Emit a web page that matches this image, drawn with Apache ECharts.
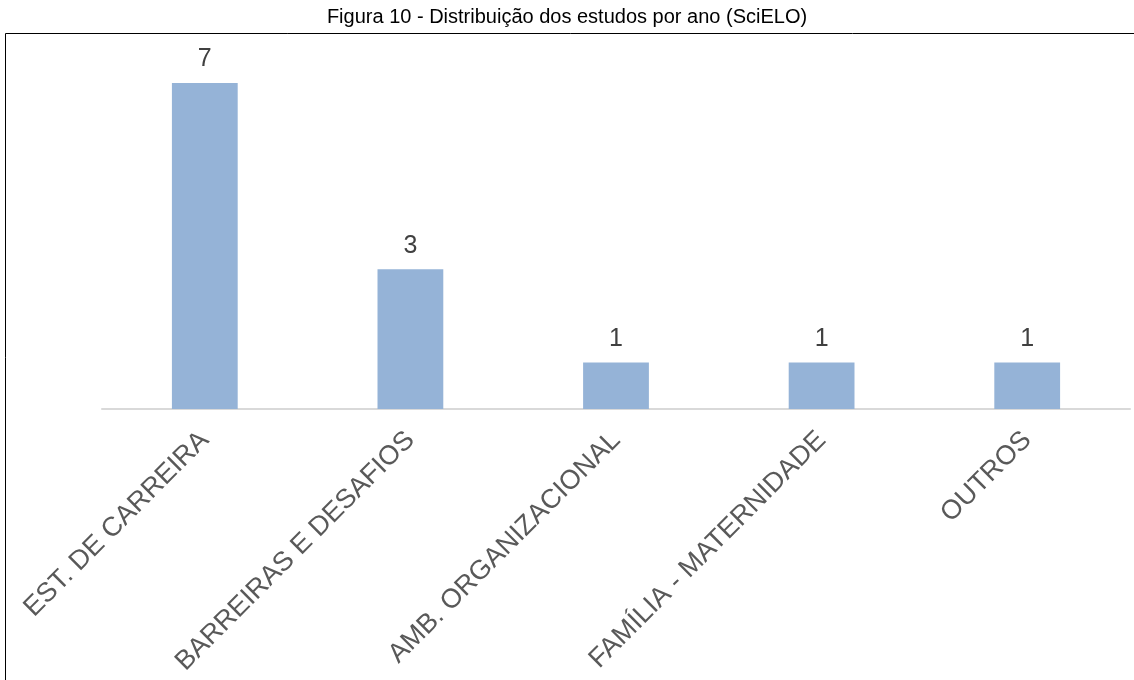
<!DOCTYPE html>
<html>
<head>
<meta charset="utf-8">
<script src="https://cdn.jsdelivr.net/npm/echarts@6/dist/echarts.min.js"></script>
<style>
  html, body { margin: 0; padding: 0; background: #fff; }
  #root { width: 1134px; height: 680px; }
</style>
</head>
<body>
<div id="root"></div>
<script>
// dados
const categorias = ['EST. DE CARREIRA', 'BARREIRAS E DESAFIOS', 'AMB. ORGANIZACIONAL', 'FAMÍLIA - MATERNIDADE', 'OUTROS'];
const estudos = [7, 3, 1, 1, 1];
const titulo = 'Figura 10 - Distribuição dos estudos por ano (SciELO)';

const BAR_COLOR = '#95b3d7';
const FONT = 'Liberation Sans, Arial, sans-serif';

const chart = echarts.init(document.getElementById('root'));

const option = {
  animation: false,
  title: {
    text: titulo,
    left: 'center',
    top: 2,
    textStyle: { fontFamily: FONT, fontSize: 20, fontWeight: 'normal', color: '#000' },
  },
  graphic: [
    {
      type: 'polyline',
      shape: { points: [[5.5, 690], [5.5, 33.5], [1140, 33.5]] },
      style: { stroke: '#000', lineWidth: 1, fill: null },
    },
  ],
  grid: { left: 102, right: 4, top: 83, bottom: 271 },
  xAxis: {
    type: 'category',
    data: categorias,
    axisLine: { lineStyle: { color: '#d9d9d9', width: 2 } },
    axisTick: { show: false },
    axisLabel: {
      interval: 0,
      rotate: 45,
      margin: 27,
      padding: [40, 0, 0, 0],
      color: '#595959',
      fontFamily: FONT,
      fontSize: 27,
    },
  },
  yAxis: {
    type: 'value',
    min: 0,
    max: 7,
    show: false,
    splitLine: { show: false },
  },
  series: [
    {
      type: 'bar',
      data: estudos,
      barWidth: '32%',
      itemStyle: { color: BAR_COLOR },
      label: {
        show: true,
        position: 'top',
        distance: 11,
        color: '#404040',
        fontFamily: FONT,
        fontSize: 25,
      },
    },
  ],
};

chart.setOption(option);
</script>
</body>
</html>
